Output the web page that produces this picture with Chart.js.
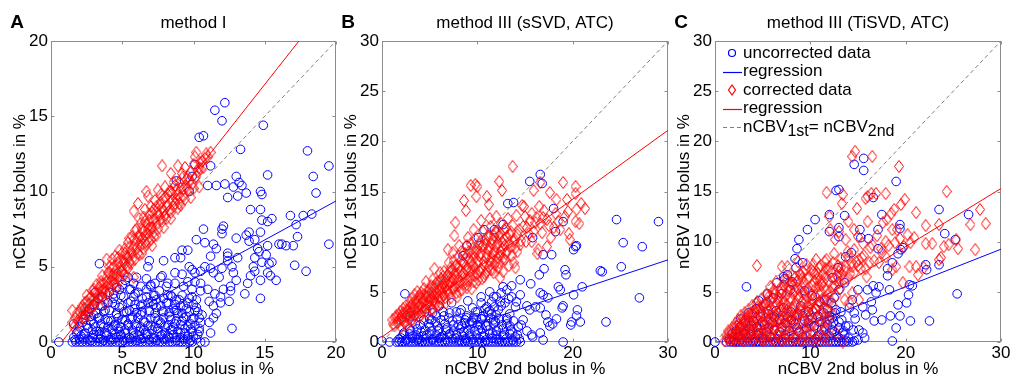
<!DOCTYPE html>
<html>
<head>
<meta charset="utf-8">
<script src="https://cdn.jsdelivr.net/npm/chart.js@4.4.0/dist/chart.umd.min.js"></script>
<style>
  html, body { margin: 0; padding: 0; background: #fff; }
  #wrap { position: relative; width: 1013px; height: 383px; }
  #wrap canvas { position: absolute; left: 0; top: 0; }
</style>
</head>
<body>
<div id="wrap">
  <canvas id="panelA" width="1013" height="383"></canvas>
  <canvas id="panelB" width="1013" height="383"></canvas>
  <canvas id="panelC" width="1013" height="383"></canvas>
</div>
<script>
Chart.defaults.font.family = '"Liberation Sans", Arial, sans-serif';
Chart.defaults.color = '#000';

const BLUE = '#0000ff';
const RED = '#ff0000';
const GRAY = '#808080';
const FRAME = '#8c8c8c';

// tick labels
const ticksA = [0, 5, 10, 15, 20];
const xTicksBC = [0, 10, 20, 30];
const yTicksBC = [0, 5, 10, 15, 20, 25, 30];

const titles = ['method I', 'method III (sSVD, ATC)', 'method III (TiSVD, ATC)'];
const letters = ['A', 'B', 'C'];
const xTitle = 'nCBV 2nd bolus in %';
const yTitle = 'nCBV 1st bolus in %';
const legendLabels = ['uncorrected data', 'regression', 'corrected data', 'regression'];

// ---- panel A (method I) ----
const aUncorr = [
  [0.55,0],[1.5,0],[1.75,0],[2.0,0],[2.2,0],[2.45,0],[2.7,0],[2.9,0],[3.15,0],[3.4,0],[3.6,0],[3.85,0],[4.1,0],[4.3,0],
  [4.55,0],[4.8,0],[5.0,0],[5.25,0],[5.5,0],[5.7,0],[5.95,0],[6.2,0],[6.4,0],[6.65,0],[6.9,0],[7.1,0],[7.35,0],[7.6,0],
  [7.8,0],[8.05,0],[8.3,0],[8.5,0],[8.75,0],[9.0,0],[9.2,0],[9.45,0],[9.7,0],[9.9,0],[10.5,0],[10.8,0],
  [1.6,0.3],[2.1,0.4],[2.6,0.2],[3.0,0.5],[3.5,0.2],[3.9,0.4],[4.4,0.2],[4.9,0.5],[5.3,0.2],[5.8,0.4],[6.3,0.2],[6.7,0.5],
  [7.2,0.2],[7.7,0.4],[8.1,0.2],[8.6,0.5],[9.1,0.3],[9.6,0.2],[10.0,0.4],
  [1.7,0.15],[2.3,0.2],[2.8,0.1],[3.3,0.25],[3.7,0.1],[4.2,0.15],[4.6,0.3],[5.1,0.1],[5.6,0.2],[6.0,0.1],[6.5,0.25],
  [6.9,0.15],[7.4,0.1],[7.9,0.2],[8.3,0.3],[8.8,0.1],[9.3,0.2],[9.8,0.1],[10.2,0.2],
  [1.9,0.7],[2.4,0.6],[2.9,0.8],[3.4,0.7],[3.8,0.6],[4.3,0.8],[4.8,0.7],[5.2,0.6],[5.7,0.8],[6.2,0.7],[6.6,0.6],[7.1,0.8],
  [7.5,0.7],[8.0,0.6],[8.4,0.8],[8.9,0.7],[9.4,0.6],[9.8,0.85],[10.4,0.7],
  [2.0,1.0],[2.5,1.1],[3.1,1.0],[3.5,1.2],[4.0,1.0],[4.5,1.15],[4.9,1.0],[5.4,1.1],[5.9,1.2],[6.3,1.0],[6.8,1.1],[7.3,1.0],
  [7.7,1.2],[8.2,1.1],[8.6,1.0],[9.1,1.15],[9.6,1.05],[10.1,1.1],
  [2.3,1.5],[2.8,1.4],[3.3,1.6],[3.8,1.5],[4.2,1.4],[4.7,1.6],[5.2,1.45],[5.6,1.5],[6.1,1.6],[6.5,1.4],[7.0,1.55],[7.5,1.45],
  [7.9,1.6],[8.4,1.5],[8.8,1.4],[9.3,1.6],[9.9,1.5],[10.4,1.6],
  [2.6,2.0],[3.2,1.9],[3.7,2.0],[4.1,2.1],[4.6,1.9],[5.1,2.0],[5.5,2.1],[6.0,1.95],[6.4,2.0],[6.9,2.1],[7.3,1.9],[7.8,2.05],
  [8.3,1.95],[8.7,2.1],[9.2,1.9],[9.7,2.0],[10.3,2.0],
  [3.0,2.5],[3.5,2.4],[4.0,2.6],[4.5,2.5],[5.0,2.4],[5.4,2.6],[5.9,2.5],[6.3,2.4],[6.8,2.6],[7.2,2.5],[7.7,2.4],[8.2,2.6],
  [8.7,2.5],[9.1,2.4],[9.6,2.6],[10.0,2.5],
  [3.6,3.0],[4.4,2.9],[4.9,3.1],[5.8,3.0],[6.4,2.9],[7.3,3.1],[7.9,2.9],[8.5,3.0],[9.2,3.1],[9.9,3.0],
  [2.3,0.5],[2.6,0.9],[2.9,0.3],[3.0,1.2],[3.2,0.7],[3.4,1.6],[3.5,0.4],[3.7,1.0],[3.8,2.1],[3.9,0.6],[4.0,1.4],[4.2,0.3],
  [4.3,2.6],[4.4,1.1],[4.5,0.5],[4.6,1.8],[4.7,0.9],[4.8,2.3],[4.9,0.4],[5.0,1.5],[5.1,3.0],[5.2,0.8],[5.3,2.0],[5.4,1.2],
  [5.5,0.3],[5.6,2.7],[5.7,1.6],[5.8,0.6],[5.9,2.2],[6.0,1.0],[6.1,3.3],[6.2,0.4],[6.3,1.8],[6.4,2.5],[6.5,0.8],[6.6,1.3],
  [6.7,3.0],[6.8,0.5],[6.9,2.0],[7.0,1.1],[7.1,2.7],[7.2,0.3],[7.3,1.6],[7.4,2.3],[7.5,0.9],[7.6,3.4],[7.7,1.3],[7.8,0.5],
  [7.9,2.0],[8.0,1.0],[8.1,2.6],[8.2,0.4],[8.3,1.7],[8.4,3.1],[8.5,0.8],[8.6,2.2],[8.7,1.2],[8.8,0.3],[8.9,1.9],[9.0,2.8],
  [9.1,0.6],[9.2,1.4],[9.3,2.4],[9.4,0.9],[9.5,1.7],[9.6,0.4],[9.7,2.9],[9.8,1.2],[9.9,0.7],[10.0,1.6],[10.2,2.3],[10.3,0.5],
  [10.5,1.3],[3.0,1.8],[3.6,2.4],[4.1,3.3],[2.0,0.2],[2.2,1.3],[1.8,0.6],[1.6,1.2],[2.8,1.7],[5.0,3.8],[5.5,3.5],[6.0,4.3],
  [7.0,3.8],[7.8,4.4],[8.2,3.9],[4.6,3.6],[3.3,2.9],[2.7,2.2],[3.1,3.3],[2.4,1.8],
  [11.5,15.4],[12.2,15.9],[12.0,14.7],[14.9,14.4],[10.4,13.6],[10.7,13.7],[13.3,12.8],[18.0,12.7],[19.5,11.7],[15.2,11.1],
  [18.4,11.0],[18.6,9.9],[13.0,11.0],[13.2,10.6],[11.6,10.4],[12.2,10.5],[11.0,10.4],[12.8,10.3],[13.4,10.4],[12.4,9.6],
  [13.1,9.7],[13.7,9.9],[14.7,10.0],[14.8,9.8],[11.2,11.7],[9.9,11.0],[10.1,11.8],[8.8,10.7],[9.7,10.0],[19.5,6.5],
  [16.8,8.4],[17.7,8.4],[18.3,8.5],[17.2,7.8],[17.3,7.0],[17.0,6.4],[16.5,6.4],[16.0,6.5],[17.1,5.1],[17.9,4.7],[15.8,4.1],
  [15.2,4.6],[15.4,4.4],[14.7,4.1],[14.7,2.9],[12.7,0.9],[14.0,8.8],[14.7,8.8],[14.8,8.1],[15.5,8.2],[15.2,8.0],[13.9,7.3],
  [14.7,7.3],[13.7,7.1],[10.7,7.5],[12.0,7.5],[12.1,7.7],[12.0,7.2],[13.0,6.9],[14.3,6.8],[13.9,6.7],[14.5,6.2],[14.6,6.0],
  [16.2,6.5],[15.2,6.4],[15.1,5.8],[14.8,5.3],[15.3,5.2],[15.5,5.3],[14.3,5.6],[14.2,5.0],[14.3,4.7],[14.0,4.4],[13.8,3.9],
  [13.6,3.2],[13.1,5.6],[12.4,5.9],[12.4,5.7],[12.4,5.4],[11.6,6.2],[11.4,6.5],[10.8,6.6],[10.2,6.8],[9.6,6.1],[9.2,6.1],
  [8.7,5.6],[7.9,5.4],[9.1,5.6],[8.7,4.6],[9.2,4.5],[9.7,5.0],[9.9,4.8],[10.1,4.6],[10.5,4.7],[10.8,5.0],[11.2,5.7],
  [11.2,4.9],[11.4,4.6],[11.8,4.3],[12.0,4.9],[12.7,5.0],[12.8,4.6],[13.0,4.1],[12.6,3.7],[12.1,3.5],[11.9,3.0],[11.5,3.2],
  [11.0,3.5],[11.1,2.7],[11.4,2.4],[11.9,2.6],[12.5,2.7],[12.6,3.4],[11.4,1.6],[11.6,1.9],[11.1,1.3],[11.2,0.6],[10.4,0.9],
  [10.6,1.8],[10.1,2.1],[9.5,2.2],[10.2,2.8],[10.5,3.4],[9.9,3.5],[9.3,3.7],[9.6,4.0],[10.1,4.0],[10.5,3.9],[8.7,3.9],
  [8.1,3.7],[8.2,3.1],[8.8,2.8],[8.8,2.1],[7.7,4.3],[7.3,3.9],[7.0,3.7],[6.7,3.5],[7.2,3.1],[7.4,2.8],[6.8,5.0],[6.9,5.4],
  [6.7,4.2],[6.3,3.7],[5.9,3.2],[5.6,3.5],[5.8,3.9],[5.2,4.1],[5.4,4.3],[3.4,5.2],[4.8,3.5],[4.4,3.2]
];
const aCorr = [
  [1.5,1.3],[1.5,2.1],[1.7,1.6],[1.9,1.4],[2.0,2.0],[2.1,1.7],[2.2,2.4],[2.3,1.9],[2.4,2.2],[2.5,2.7],[2.6,2.1],[2.7,2.5],
  [2.8,3.0],[2.9,2.4],[3.0,2.8],[3.0,3.5],[3.1,2.6],[3.2,3.2],[3.3,2.9],[3.4,3.6],[3.5,3.1],[3.5,4.0],[3.6,3.4],[3.7,3.9],
  [3.8,2.6],[3.8,3.5],[3.9,4.3],[4.0,3.8],[4.1,4.6],[4.1,3.3],[4.2,4.1],[4.3,4.9],[4.4,3.9],[4.4,4.5],[4.5,5.7],[4.5,4.2],
  [4.6,4.8],[4.7,5.3],[4.8,4.4],[4.9,5.0],[5.0,5.9],[5.0,4.7],[5.1,5.4],[5.2,6.2],[5.3,5.0],[5.3,5.7],[5.4,6.6],[5.5,5.3],
  [5.6,6.0],[5.7,7.0],[5.7,5.5],[5.8,6.3],[5.8,8.7],[5.8,4.3],[6.0,6.7],[6.0,7.5],[6.1,5.9],[6.1,9.2],[6.2,7.1],[6.3,6.4],
  [6.3,7.9],[6.4,6.9],[6.5,7.4],[6.5,8.3],[6.6,6.6],[6.7,7.8],[6.7,10.0],[6.8,9.7],[6.8,7.2],[6.9,8.5],[7.0,7.6],[7.0,9.0],
  [7.1,8.1],[7.2,7.0],[7.2,8.8],[7.3,9.4],[7.4,7.9],[7.5,8.6],[7.5,10.1],[7.6,9.1],[7.7,8.2],[7.7,9.8],[7.8,11.7],[7.8,8.9],
  [7.9,9.5],[8.0,8.4],[8.0,10.3],[8.1,9.0],[8.2,9.8],[8.3,8.7],[8.4,11.2],[8.4,10.0],[8.5,9.4],[8.6,10.6],[8.7,9.2],[8.8,10.1],
  [8.9,11.7],[8.9,9.8],[9.0,10.6],[9.1,9.6],[9.2,10.9],[9.3,10.2],[9.4,9.5],[9.5,10.8],[9.6,11.0],[9.7,10.1],[9.8,11.3],
  [9.9,10.5],[10.0,11.8],[10.1,12.3],[10.2,12.6],[10.2,11.0],[10.4,10.3],[10.4,11.6],[10.5,11.5],[10.6,12.0],[10.8,12.2],
  [11.0,12.3],[11.2,12.6],[3.9,5.5],[4.1,5.0],[3.6,4.4],[3.2,3.8],[2.5,3.1],[4.8,6.1],[5.5,6.9],[6.2,8.2],[6.6,8.8],
  [6.9,6.7],[7.4,7.1],[7.9,7.6],[8.4,8.2],[5.2,4.5],[4.6,3.7],[6.4,5.9],[7.1,6.4],[2.3,2.2],[2.9,3.4],[8.9,8.9],
  [9.4,11.6],[9.1,9.1],[5.9,7.4],[4.3,5.5],
  [1.6,1.0],[1.8,1.9],[2.0,1.3],[2.1,2.2],[2.3,1.6],[2.4,2.6],[2.6,1.8],[2.7,2.9],[2.8,2.2],[3.0,2.4],[3.1,3.3],[3.2,2.7],
  [3.4,3.0],[3.5,3.8],[3.6,2.9],[3.7,3.5],[3.9,3.2],[3.9,4.0],[4.0,4.6],[4.2,3.6],[4.3,4.4],[4.4,5.0],[4.5,3.9],[4.6,4.5],
  [4.7,5.6],[4.8,4.1],[4.9,4.7],[5.0,5.4],[5.1,4.5],[5.2,5.2],[5.2,5.9],[5.4,4.9],[5.4,5.6],[5.5,6.3],[5.6,5.2],[5.7,5.9],
  [5.8,6.8],[5.9,5.5],[6.0,6.2],[6.1,7.0],[6.2,5.8],[6.3,6.7],[6.4,7.5],[6.5,6.2],[6.6,7.1],[6.6,8.0],[6.7,6.5],[6.8,7.5],
  [6.9,8.1],[7.0,6.8],[7.1,7.6],[7.1,8.6],[7.2,7.3],[7.3,8.2],[7.4,9.0],[7.5,7.5],[7.6,8.4],[7.7,9.3],[7.8,8.0],[7.9,8.7],
  [8.0,9.6],[8.1,8.2],[8.2,9.1],[8.3,10.0],[8.4,8.6],[8.5,9.9],[8.6,9.0],[8.7,10.4],[8.8,9.5],[9.0,9.2],[9.1,10.2],
  [9.2,11.2],[9.3,9.7],[9.5,10.3],[9.7,10.7],[9.8,9.6],[10.0,10.2],[10.1,10.9],[10.3,11.3],[10.5,11.9],[10.7,11.6],[10.9,12.5]
];
const aRegBlue = [[1.9,0],[20,9.37]];
const aRegRed = [[0.75,0],[17.4,20]];

// ---- panel B (method III, sSVD) ----
const bUncorr = [
  [0.0,0.1],[0.8,0],[1.5,0],[1.8,0],[2.1,0],[2.4,0],[2.7,0],[3.0,0],[3.3,0],[3.6,0],[3.9,0],[4.2,0],[4.5,0],[4.8,0],
  [5.1,0],[5.4,0],[5.7,0],[6.0,0],[6.3,0],[6.6,0],[6.9,0],[7.2,0],[7.5,0],[7.8,0],[8.1,0],[8.4,0],[8.7,0],[9.0,0],
  [9.3,0],[9.6,0],[9.9,0],[10.2,0],[10.5,0],[10.8,0],[11.1,0],[11.4,0],[11.7,0],[12.0,0],[12.3,0],[12.6,0],[12.9,0],
  [13.2,0],[13.5,0],[13.8,0],[14.1,0],[14.5,0],
  [1.8,0.3],[2.5,0.2],[3.2,0.35],[3.9,0.25],[4.6,0.3],[5.3,0.2],[6.0,0.35],[6.7,0.25],[7.4,0.3],[8.1,0.2],[8.8,0.35],
  [9.5,0.25],[10.2,0.3],[10.9,0.2],[11.6,0.35],[12.3,0.25],[13.0,0.3],[13.7,0.2],[14.4,0.3],
  [2.2,0.7],[2.9,0.8],[3.6,0.7],[4.3,0.6],[5.0,0.8],[5.7,0.7],[6.4,0.6],[7.1,0.8],[7.8,0.7],[8.5,0.6],[9.2,0.8],[9.9,0.7],
  [10.6,0.6],[11.3,0.8],[12.0,0.7],[12.7,0.6],[13.4,0.8],[14.2,0.7],
  [3.0,1.1],[3.7,1.3],[4.5,1.2],[5.2,1.1],[6.0,1.3],[6.7,1.2],[7.5,1.1],[8.2,1.3],[9.0,1.2],[9.7,1.1],[10.5,1.3],[11.2,1.2],
  [12.0,1.1],[12.7,1.3],[13.5,1.2],
  [4.0,1.7],[4.9,1.8],[5.8,1.6],[6.6,1.8],[7.5,1.7],[8.4,1.6],[9.2,1.8],[10.0,1.7],[10.9,1.6],[11.7,1.8],[12.6,1.7],[13.4,1.6],
  [5.0,2.3],[6.2,2.2],[7.0,2.4],[7.9,2.3],[8.7,2.2],[9.6,2.4],[10.5,2.3],[11.4,2.4],[12.3,2.3],[13.1,2.2],
  [9.5,3.4],[10.0,3.0],[10.8,3.3],[11.5,2.8],[12.2,3.2],[12.9,3.9],[13.3,4.3],[12.4,4.0],[11.7,4.5],[14.0,3.5],
  [2.0,0.4],[2.3,0.9],[2.6,0.3],[2.9,1.3],[3.2,0.6],[3.5,1.8],[3.8,0.4],[4.1,1.0],[4.4,2.2],[4.7,0.7],[5.0,1.5],[5.3,0.3],
  [5.6,2.0],[5.9,1.1],[6.2,0.5],[6.5,2.6],[6.8,1.4],[7.1,0.8],[7.4,2.1],[7.7,0.4],[8.0,1.7],[8.3,3.2],[8.6,1.0],[8.9,2.4],
  [9.2,0.6],[9.5,1.9],[9.8,3.0],[10.1,1.2],[10.4,2.3],[10.7,0.5],[11.0,1.6],[11.3,3.1],[11.6,0.9],[11.9,2.0],[12.2,1.3],
  [12.5,3.6],[12.8,0.7],[13.1,1.8],[13.4,2.8],[13.7,1.0],[14.0,0.5],[14.3,1.5],[3.0,2.6],[4.6,3.3],[6.0,3.6],[7.3,3.9],
  [9.0,4.1],[10.4,4.5],[2.4,4.8],[5.3,2.9],[3.7,0.2],[8.8,0.2],[12.0,0.3],
  [15.5,16.0],[16.6,16.7],[16.8,15.8],[13.2,13.8],[13.8,13.9],[18.0,13.3],[19.0,12.0],[18.2,11.0],[24.6,12.2],[29.0,12.0],
  [25.3,9.9],[27.3,9.5],[25.1,7.5],[22.9,7.1],[23.1,7.0],[27.0,4.4],[23.5,2.0],[20.1,9.2],[20.3,9.5],[20.4,9.6],[16.9,8.7],
  [17.8,8.7],[15.8,10.4],[12.7,11.7],[11.8,11.2],[10.7,11.2],[10.1,10.4],[8.9,9.6],[8.5,8.6],[17.0,7.3],[19.2,7.2],
  [19.3,6.7],[16.5,6.7],[15.6,5.8],[12.7,5.5],[13.6,5.6],[14.5,6.2],[16.6,4.9],[16.9,4.7],[17.4,4.4],[20.1,4.7],[21.0,5.5],
  [18.5,5.5],[18.7,5.2],[18.9,3.4],[19.0,3.6],[20.5,3.2],[20.4,2.6],[20.8,2.0],[19.8,1.7],[19.9,2.0],[17.6,1.6],[16.6,0.9],
  [16.9,0.2],[19.0,0],[18.3,2.3],[17.9,1.8],[17.4,2.0],[17.2,2.7],[16.6,3.4],[16.1,3.5],[15.5,3.2],[15.2,3.6],[14.8,2.2],
  [14.6,1.7],[15.2,1.1],[15.7,0.7],[15.8,0.5],[13.8,2.1],[13.1,2.4],[12.0,2.7],[11.7,2.2],[11.1,3.0],[10.6,2.6],[9.9,2.4],
  [10.3,1.7],[9.4,2.1],[8.9,2.6],[8.2,2.9],[7.8,3.0],[7.1,2.9],[6.4,3.0],[5.7,2.6],[5.2,2.2],[12.5,4.9],[12.0,4.5],
  [13.1,5.2],[13.6,4.5],[14.1,4.0],[14.5,4.7],[11.5,4.0],[11.0,3.5],[10.4,3.9],[11.8,3.5],[11.3,5.0],[8.7,1.9]
];
const bCorr = [
  [1.1,2.2],[1.3,1.6],[1.5,2.6],[1.6,1.9],[1.8,2.3],[1.9,3.0],[2.0,1.5],[2.1,2.6],[2.2,3.3],[2.3,2.0],[2.4,2.8],[2.5,3.6],
  [2.6,1.7],[2.7,3.1],[2.8,2.4],[2.9,3.9],[3.0,2.9],[3.1,4.3],[3.2,2.2],[3.3,3.5],[3.4,4.7],[3.5,2.7],[3.6,3.9],[3.7,3.2],
  [3.8,4.5],[3.9,2.5],[4.0,3.7],[4.1,4.9],[4.2,3.0],[4.3,4.2],[4.4,5.3],[4.5,3.5],[4.6,4.6],[4.7,2.8],[4.8,5.0],[4.9,3.9],
  [5.0,4.4],[5.1,5.6],[5.2,3.3],[5.3,4.8],[5.4,4.1],[5.5,5.3],[5.5,7.3],[5.6,3.7],[5.7,5.0],[5.8,6.0],[5.9,4.4],[6.0,5.5],
  [6.1,3.9],[6.2,6.3],[6.3,4.9],[6.4,5.8],[6.5,7.0],[6.6,4.4],[6.7,6.1],[6.8,5.2],[6.9,9.2],[6.9,6.7],[7.0,4.8],[7.1,5.9],
  [7.2,7.4],[7.3,6.4],[7.4,5.3],[7.5,8.1],[7.6,10.6],[7.6,6.8],[7.7,11.9],[7.7,5.6],[7.8,7.6],[7.9,6.2],[8.0,8.5],[8.1,5.0],
  [8.2,7.1],[8.3,9.0],[8.4,6.6],[8.5,7.9],[8.6,14.1],[8.6,5.8],[8.7,8.8],[8.8,13.1],[8.8,7.2],[8.9,9.6],[9.0,6.1],[9.1,8.3],
  [9.2,7.0],[9.3,15.6],[9.3,9.8],[9.4,5.3],[9.5,7.7],[9.6,8.9],[9.7,6.6],[9.8,15.7],[9.8,10.3],[9.9,14.5],[9.9,7.9],
  [10.0,15.5],[10.0,9.2],[10.1,6.2],[10.2,8.6],[10.3,10.0],[10.4,7.3],[10.5,9.5],[10.6,11.0],[10.7,8.0],[10.8,6.8],
  [10.9,9.8],[11.0,14.5],[11.0,8.7],[11.1,10.6],[11.2,13.7],[11.2,7.5],[11.3,9.3],[11.4,11.5],[11.5,8.4],[11.6,10.2],
  [11.7,6.9],[11.8,9.0],[11.9,11.0],[12.0,12.5],[12.0,8.0],[12.1,9.7],[12.2,7.4],[12.3,16.0],[12.3,10.5],[12.4,8.6],
  [12.5,11.8],[12.6,15.1],[12.6,9.3],[12.7,7.0],[12.8,10.2],[12.9,8.2],[13.0,11.3],[13.1,9.0],[13.2,12.3],[13.3,7.6],
  [13.4,10.7],[13.5,9.5],[13.7,17.5],[13.7,11.6],[13.8,7.9],[13.9,10.2],[14.0,7.4],[14.1,12.6],[14.2,9.0],[14.4,11.2],
  [14.6,10.1],[14.7,13.6],[14.9,13.5],[15.0,12.5],[15.2,11.4],[15.4,10.8],[15.7,12.8],[15.7,10.0],[15.9,15.1],[16.1,11.9],
  [16.3,8.8],[16.4,9.2],[16.5,13.5],[16.6,15.9],[16.6,11.8],[16.9,12.4],[17.3,12.2],[17.3,9.5],[17.6,14.9],[17.7,10.4],
  [18.2,12.8],[18.3,14.2],[18.7,11.2],[19.0,15.9],[19.4,14.2],[19.5,13.0],[19.6,10.8],[19.7,10.2],[20.3,15.5],[20.3,14.8],
  [20.3,12.0],[20.4,13.2],[20.7,11.8],[20.9,13.8],[21.3,13.3],[4.0,4.6],[3.0,3.6],[2.0,2.4],[5.3,6.2],[6.1,6.9],[7.0,7.9],
  [7.4,8.9],[8.1,9.6],[9.0,10.4],[9.6,11.2],[10.4,12.1],[11.3,12.3],[6.6,5.4],[7.9,4.5],[8.9,5.4],[9.9,5.9],[10.7,6.5],
  [11.6,7.2],[12.4,6.4],[4.6,6.0],[3.7,5.0],
  [1.2,1.8],[1.4,2.4],[1.7,2.0],[1.8,2.7],[2.1,2.2],[2.2,2.9],[2.4,1.9],[2.5,2.5],[2.6,3.2],[2.8,2.7],[2.9,3.4],[3.0,2.1],
  [3.1,3.0],[3.2,3.8],[3.4,2.6],[3.5,3.3],[3.6,4.1],[3.7,2.9],[3.9,3.6],[4.0,4.4],[4.1,2.7],[4.2,3.4],[4.3,4.0],[4.4,4.7],
  [4.6,3.1],[4.7,3.8],[4.8,4.5],[4.9,5.2],[5.0,3.6],[5.1,4.2],[5.2,4.9],[5.3,3.2],[5.4,5.5],[5.5,4.5],[5.6,4.0],[5.7,5.8],
  [5.8,4.8],[5.9,3.6],[6.0,5.2],[6.1,6.0],[6.2,4.3],[6.3,5.5],[6.4,6.5],[6.5,4.7],[6.6,5.9],[6.7,3.9],[6.8,6.5],[6.9,5.0],
  [7.0,5.7],[7.1,7.0],[7.2,4.4],[7.3,6.0],[7.4,7.2],[7.5,5.4],[7.6,6.2],[7.7,7.6],[7.8,4.9],[7.9,6.8],[8.0,5.6],[8.1,7.4],
  [8.2,6.0],[8.3,8.1],[8.4,5.2],[8.5,6.9],[8.6,7.8],[8.7,6.2],[8.8,8.4],[8.9,5.7],[9.0,7.4],[9.1,9.0],[9.2,6.5],[9.3,8.0],
  [9.4,7.1],[9.5,9.3],[9.6,6.0],[9.7,8.4],[9.8,7.3],[9.9,9.0],[10.0,6.8],[10.1,8.0],[10.2,9.7],[10.3,7.0],[10.4,8.8],
  [10.5,6.3],[10.6,9.6],[10.7,7.6],[10.8,10.2],[10.9,8.4],[11.0,7.0],[11.1,9.2],[11.2,10.4],[11.3,8.1],[11.4,7.2],
  [11.5,9.8],[11.6,8.8],[11.7,10.6],[11.8,7.7],[11.9,9.5],[12.0,10.9],[12.1,8.4],[12.2,9.9],[12.3,7.9],[12.4,10.8],
  [12.5,9.0],[12.6,10.0],[12.7,8.3],[12.8,11.2],[12.9,9.6],[13.0,8.8],[13.1,10.5],[13.3,9.9],[13.5,11.0],[13.6,8.6],
  [13.8,10.0],[14.0,9.4],[14.2,10.7],[14.5,9.7],[14.8,11.5],[15.1,10.0],[15.5,12.1],[15.9,11.0],[16.2,12.4],[16.8,10.9],
  [17.0,13.1],[17.5,11.6],[18.0,11.4],[18.5,12.0],[19.2,12.5]
];
const bRegBlue = [[4.1,0],[30,8.19]];
const bRegRed = [[0,0.5],[30,21.1]];

// ---- panel C (method III, TiSVD) ----
const cUncorr = [
  [0.0,0],[1.2,0],[1.6,0],[1.9,0],[2.2,0],[2.5,0],[2.8,0],[3.1,0],[3.4,0],[3.7,0],[4.0,0],[4.3,0],[4.6,0],[4.9,0],
  [5.2,0],[5.5,0],[5.8,0],[6.1,0],[6.4,0],[6.7,0],[7.0,0],[7.3,0],[7.6,0],[7.9,0],[8.2,0],[8.5,0],[8.8,0],[9.1,0],
  [9.4,0],[9.7,0],[10.0,0],[10.3,0],[10.6,0],[10.9,0],[11.2,0],[11.5,0],[11.8,0],[12.1,0],[12.4,0],[12.7,0],[13.0,0],
  [13.3,0],[13.6,0],[14.0,0],[14.4,0],
  [1.5,0.3],[1.8,0.8],[2.0,0.2],[2.2,1.1],[2.4,0.5],[2.6,1.5],[2.8,0.3],[3.0,0.9],[3.2,1.9],[3.4,0.4],[3.6,1.3],[3.8,0.7],
  [4.0,2.1],[4.2,0.3],[4.4,1.5],[4.6,0.9],[4.8,2.5],[5.0,0.4],[5.2,1.7],[5.4,1.0],[5.6,2.8],[5.8,0.5],[6.0,1.9],[6.2,1.2],
  [6.4,3.1],[6.6,0.3],[6.8,2.2],[7.0,1.5],[7.2,3.4],[7.4,0.7],[7.6,2.5],[7.8,1.1],[8.0,3.0],[8.2,0.4],[8.4,1.8],[8.6,2.7],
  [8.8,1.0],[9.0,3.6],[9.2,0.5],[9.4,2.1],[9.6,1.4],[9.8,3.0],[10.0,0.8],[10.2,2.4],[10.4,1.6],[10.6,3.3],[10.8,0.6],
  [11.0,2.0],[11.2,1.2],[11.4,2.9],[11.6,0.4],[11.8,1.7],[12.0,2.6],[12.2,0.9],[12.4,1.9],[12.6,2.9],[12.8,0.5],[13.0,1.4],
  [13.3,2.2],[13.6,0.7],[14.0,1.6],[2.7,2.3],[3.5,2.9],[4.3,3.3],[5.3,3.8],[6.1,4.4],[7.0,4.8],[7.9,5.2],[6.5,5.9],
  [7.3,6.3],[8.1,6.0],[5.5,4.8],[4.6,4.1],[9.4,5.1],[10.2,4.6],[11.0,4.0],[12.5,4.4],
  [10.5,0.3],[11.0,0.7],[11.5,1.5],[12.0,0.6],[12.5,1.0],[13.0,2.0],[13.5,1.1],[14.0,0.4],[14.5,1.2],[12.3,2.4],[11.8,3.3],
  [13.2,3.0],[10.8,2.6],[9.8,1.9],[9.2,2.6],[8.6,1.4],[8.0,2.2],[7.4,1.9],[6.8,1.0],[6.2,2.5],[5.6,1.4],[5.0,2.0],[4.4,0.7],
  [3.8,1.6],[3.2,0.8],[2.6,0.6],[14.6,0.1],[15.0,0.2],[13.8,0.1],
  [15.6,18.3],[14.6,17.7],[15.6,17.1],[19.0,16.0],[12.7,15.1],[13.0,15.2],[16.6,14.4],[17.5,12.7],[19.4,11.7],[19.4,11.3],
  [12.0,12.7],[10.5,12.2],[13.6,12.6],[12.0,11.0],[13.0,11.4],[13.0,10.5],[9.7,11.2],[8.8,10.2],[8.6,9.3],[8.4,8.3],
  [9.2,7.9],[8.5,7.4],[7.6,6.7],[7.2,6.5],[3.3,5.5],[15.2,11.2],[15.3,10.4],[16.1,10.3],[17.1,9.3],[17.1,11.2],[18.1,6.6],
  [18.1,7.3],[18.6,7.9],[19.2,8.8],[19.5,9.2],[19.7,9.4],[17.2,5.5],[18.3,5.2],[16.6,5.6],[16.9,4.9],[19.2,3.7],[20.4,5.7],
  [20.7,5.6],[20.3,4.7],[20.1,3.9],[20.5,2.1],[22.5,2.1],[22.1,7.7],[22.2,7.2],[23.5,7.7],[23.5,13.2],[26.6,12.7],
  [25.2,10.2],[24.1,10.8],[25.4,4.8],[18.4,2.6],[19.4,2.6],[19.0,1.4],[18.6,0.1],[17.5,2.2],[16.7,2.1],[15.5,0.9],
  [15.1,1.2],[15.7,0.4],[14.7,2.3],[14.6,2.9],[14.1,3.4],[14.4,4.2],[15.0,5.2],[16.0,5.2],[16.4,4.0],[16.5,3.2],[15.5,3.5],
  [15.8,2.7],[13.7,1.6],[13.4,0.9],[13.0,0.4],[12.3,1.2],[12.0,2.2],[12.7,3.2],[12.2,3.9],[11.5,4.2],[13.0,5.2],[13.6,5.9],
  [12.9,7.4],[12.3,6.4],[13.7,8.5],[14.3,8.9]
];
const cCorr = [
  [1.0,0.1],[1.3,0.4],[1.5,0.9],[1.7,0.2],[1.8,1.4],[2.0,0.6],[2.1,1.8],[2.2,0.1],[2.3,1.1],[2.4,2.2],[2.5,0.4],[2.6,1.5],
  [2.7,2.6],[2.8,0.8],[2.9,1.9],[3.0,0.2],[3.1,2.9],[3.2,1.2],[3.3,2.3],[3.4,0.5],[3.5,3.2],[3.6,1.6],[3.7,0.9],[3.8,2.6],
  [3.9,3.6],[4.0,0.3],[4.1,1.9],[4.2,3.0],[4.3,1.1],[4.4,7.6],[4.4,4.0],[4.5,2.3],[4.6,0.6],[4.7,3.4],[4.8,1.5],[4.9,4.3],
  [5.0,2.7],[5.1,0.2],[5.2,3.8],[5.3,1.8],[5.4,4.7],[5.5,1.0],[5.6,3.1],[5.7,2.2],[5.8,5.5],[5.8,4.1],[5.9,0.5],[6.0,2.6],
  [6.1,4.9],[6.2,1.4],[6.3,3.5],[6.4,6.0],[6.5,0.8],[6.6,2.9],[6.7,4.4],[6.8,1.9],[6.9,5.3],[7.0,7.5],[7.0,0.3],[7.1,3.8],
  [7.2,2.4],[7.3,6.2],[7.4,1.2],[7.5,4.7],[7.6,7.5],[7.6,3.2],[7.7,0.7],[7.8,5.6],[7.9,2.0],[8.0,4.1],[8.1,6.6],[8.2,1.5],
  [8.3,3.5],[8.4,5.1],[8.5,0.4],[8.6,2.8],[8.7,8.0],[8.7,6.1],[8.8,4.4],[8.9,1.0],[9.0,3.1],[9.1,5.5],[9.2,7.0],[9.3,2.2],
  [9.4,4.8],[9.5,0.6],[9.6,7.7],[9.6,3.6],[9.7,6.3],[9.8,1.7],[9.9,5.0],[10.0,2.7],[10.1,7.2],[10.2,4.2],[10.3,0.9],
  [10.4,6.0],[10.5,3.3],[10.6,8.2],[10.6,5.4],[10.7,1.4],[10.8,6.8],[10.9,4.0],[11.0,2.3],[11.1,7.6],[11.2,5.7],[11.3,0.5],
  [11.4,3.4],[11.5,8.0],[11.6,6.4],[11.7,8.2],[11.7,14.9],[11.8,4.7],[11.9,7.1],[12.0,7.5],[12.1,11.2],[12.3,5.5],
  [12.7,0.9],[11.6,1.2],[12.5,8.8],[13.0,5.9],[13.0,7.0],[13.3,13.8],[13.4,14.7],[13.4,0],[13.6,4.2],[13.7,10.2],[13.7,7.5],
  [14.0,8.5],[14.1,3.9],[14.4,18.5],[14.4,7.5],[14.4,4.9],[14.6,11.2],[14.6,9.2],[14.7,19.0],[14.9,13.3],[15.1,4.2],
  [15.1,8.2],[15.5,9.8],[15.8,14.3],[16.0,14.5],[16.2,7.9],[16.4,14.8],[16.5,9.7],[16.5,18.5],[16.9,14.8],[17.2,7.9],
  [17.4,9.3],[17.9,14.8],[17.9,10.0],[17.9,8.5],[18.5,12.8],[18.6,11.2],[18.6,7.2],[18.8,13.2],[19.0,7.5],[19.1,11.2],
  [19.3,17.5],[19.5,13.7],[19.7,5.9],[19.9,14.2],[20.2,10.7],[20.4,7.5],[21.1,12.9],[21.1,7.5],[21.3,6.7],[21.9,7.4],
  [22.1,11.6],[22.1,9.8],[22.8,9.8],[23.5,11.7],[23.5,8.2],[23.7,8.4],[24.0,9.5],[24.3,15.0],[24.5,9.7],[25.3,10.2],
  [25.5,9.3],[26.8,11.7],[27.3,9.2],[27.8,13.2],[28.4,11.8],[12.0,12.5],[10.3,7.0],[9.0,6.6],[8.0,5.8],[11.0,6.2],
  [12.4,7.9],[12.8,6.6],[13.2,8.3],[13.5,6.2],[13.9,9.0],[14.2,6.8],[14.8,8.0],[15.3,7.3],[15.6,8.6],[15.9,6.5],[16.3,9.4],
  [16.7,8.1],[17.0,10.6],[17.5,8.9],[18.2,9.6],[18.9,9.9],[19.4,10.3],[19.8,9.5],[20.5,9.9],[20.9,10.4],[14.0,12.0],
  [15.0,10.5],[16.0,12.0],[17.6,11.9],[18.0,12.2],[12.6,10.2],[13.0,11.0],
  [1.2,0.7],[1.5,0.2],[1.8,0.9],[2.0,1.4],[2.2,0.5],[2.4,1.0],[2.5,1.8],[2.7,0.3],[2.8,1.4],[3.0,2.1],[3.1,0.7],[3.3,1.6],
  [3.4,2.6],[3.5,0.3],[3.6,2.0],[3.8,1.1],[3.9,2.9],[4.0,1.6],[4.2,0.6],[4.3,2.4],[4.4,3.4],[4.5,1.2],[4.7,2.8],[4.8,0.3],
  [4.9,1.9],[5.0,3.6],[5.1,1.2],[5.3,2.9],[5.4,0.6],[5.5,4.0],[5.6,2.2],[5.7,1.4],[5.9,3.3],[6.0,4.4],[6.1,0.3],[6.2,2.1],
  [6.3,4.8],[6.4,1.5],[6.5,3.8],[6.6,0.6],[6.7,2.4],[6.8,5.0],[6.9,3.2],[7.0,1.4],[7.1,4.2],[7.2,5.6],[7.3,0.4],[7.4,2.8],
  [7.5,3.7],[7.6,1.7],[7.7,5.1],[7.8,2.6],[7.9,6.0],[8.0,0.8],[8.1,3.4],[8.2,4.8],[8.3,2.1],[8.4,6.4],[8.5,3.9],[8.6,1.2],
  [8.7,5.3],[8.8,2.8],[8.9,6.8],[9.0,0.3],[9.1,4.0],[9.2,1.9],[9.3,5.9],[9.4,3.0],[9.5,7.2],[9.6,1.0],[9.7,4.4],[9.8,2.4],
  [9.9,6.5],[10.0,3.8],[10.1,1.6],[10.2,5.6],[10.3,7.7],[10.4,2.9],[10.5,4.6],[10.6,0.4],[10.7,6.2],[10.8,3.6],[10.9,7.4],
  [11.0,1.8],[11.1,5.0],[11.2,3.0],[11.3,6.8],[11.4,4.3],[11.5,2.5],[11.6,7.3],[11.7,5.2],[11.8,3.1],[11.9,6.0],[12.0,4.0],
  [12.2,7.0],[12.3,2.8],[12.5,6.3],[12.7,4.6],[12.9,7.6],[13.1,5.3],[13.3,6.7],[13.6,7.1],[13.9,6.3],[14.3,7.9],[14.6,6.9],
  [15.0,7.6],[15.4,8.4],[15.8,7.3],[12.0,0.2],[11.0,0.1],[10.0,0.2],[9.0,0.1],[8.0,0.15],[7.0,0.1],[6.0,0.2],[5.0,0.1],
  [4.0,0.15],[3.0,0.1],[2.0,0.15],
  [1.4,1.1],[1.9,0.4],[2.3,1.6],[2.6,0.9],[2.9,2.4],[3.2,0.4],[3.5,1.9],[3.7,2.8],[4.0,1.1],[4.1,2.6],[4.3,3.8],[4.6,1.7],
  [4.8,3.0],[5.0,0.7],[5.2,2.5],[5.4,3.3],[5.6,4.5],[5.8,1.8],[6.0,3.0],[6.2,5.2],[6.4,2.6],[6.6,4.1],[6.8,1.1],[6.9,3.6],
  [7.1,5.0],[7.3,2.0],[7.5,6.1],[7.7,3.0],[7.9,4.4],[8.1,1.9],[8.3,5.7],[8.5,2.4],[8.7,4.6],[8.9,3.3],[9.1,6.3],[9.3,1.4],
  [9.5,4.0],[9.7,5.3],[9.9,2.1],[10.1,4.7],[10.3,3.1],[10.5,6.8],[10.7,2.5],[10.9,5.6],[11.1,3.8],[11.3,6.0],[11.5,1.2],
  [11.7,4.1],[11.9,2.3],[12.1,5.0],[12.4,3.6],[12.6,5.6],[12.9,6.4],[13.2,7.4],[6.5,2.0],[7.2,3.1],[8.2,2.7],[9.0,5.0],
  [9.9,3.5],[10.8,4.9],[11.6,2.0],[5.3,0.3],[6.3,0.1],[7.5,0.2],[8.4,0.3],[9.4,0.2],[10.4,0.1],[11.5,0.3]
];
const cRegBlue = [[5.3,0],[30,9.25]];
const cRegRed = [[3.6,0],[30,15.3]];

const toXY = arr => arr.map(p => ({ x: p[0], y: p[1] }));

// narrow diamond marker, like the MATLAB 'd' symbol
function diamondMarker(w, h, color) {
  const c = document.createElement('canvas');
  c.width = w; c.height = h;
  const g = c.getContext('2d');
  g.strokeStyle = color;
  g.lineWidth = 1;
  g.beginPath();
  g.moveTo(w / 2, 0.5); g.lineTo(w - 0.5, h / 2); g.lineTo(w / 2, h - 0.5); g.lineTo(0.5, h / 2);
  g.closePath();
  g.stroke();
  return c;
}
const redDiamond = diamondMarker(10, 13, RED);

const panelPlugin = {
  id: 'panelDeco',
  beforeDatasetsDraw(chart) {
    const { ctx, chartArea: a, scales: { x, y } } = chart;
    const l = Math.round(a.left) + 0.5, r = Math.round(a.right) - 0.5;
    const t = Math.round(a.top) + 0.5, b = Math.round(a.bottom) - 0.5;
    ctx.save();
    ctx.strokeStyle = FRAME;
    ctx.lineWidth = 1;
    ctx.strokeRect(l, t, r - l, b - t);
    ctx.beginPath();
    x.ticks.forEach(tk => {
      const px = Math.round(x.getPixelForValue(tk.value)) + 0.5;
      ctx.moveTo(px, b); ctx.lineTo(px, b - 3);
      ctx.moveTo(px, t); ctx.lineTo(px, t + 3);
    });
    y.ticks.forEach(tk => {
      const py = Math.round(y.getPixelForValue(tk.value)) + 0.5;
      ctx.moveTo(l, py); ctx.lineTo(l + 3, py);
      ctx.moveTo(r, py); ctx.lineTo(r - 3, py);
    });
    ctx.stroke();
    ctx.restore();
  },
  afterDraw(chart, args, opts) {
    const { ctx, chartArea: a } = chart;
    ctx.save();
    ctx.fillStyle = '#000';
    ctx.textBaseline = 'alphabetic';
    ctx.textAlign = 'center';
    ctx.font = '17px "Liberation Sans", Arial, sans-serif';
    ctx.fillText(opts.title, (a.left + a.right) / 2, 28);
    ctx.font = 'bold 19px "Liberation Sans", Arial, sans-serif';
    ctx.fillText(opts.letter, a.left - 34, 28);

    if (opts.legend) {
      const x0 = a.left;
      const rows = [a.top + 12, a.top + 30.5, a.top + 49, a.top + 67.5, a.top + 86];
      ctx.font = '17px "Liberation Sans", Arial, sans-serif';
      ctx.textAlign = 'left';
      ctx.textBaseline = 'middle';
      ctx.lineWidth = 1.2;
      ctx.strokeStyle = BLUE;
      ctx.beginPath(); ctx.arc(x0 + 17, rows[0], 3.5, 0, Math.PI * 2); ctx.stroke();
      ctx.beginPath(); ctx.moveTo(x0 + 8, Math.round(rows[1]) + 0.5); ctx.lineTo(x0 + 27, Math.round(rows[1]) + 0.5); ctx.stroke();
      ctx.strokeStyle = RED;
      ctx.beginPath();
      ctx.moveTo(x0 + 17, rows[2] - 5); ctx.lineTo(x0 + 20.5, rows[2]);
      ctx.lineTo(x0 + 17, rows[2] + 5); ctx.lineTo(x0 + 13.5, rows[2]); ctx.closePath(); ctx.stroke();
      ctx.beginPath(); ctx.moveTo(x0 + 8, Math.round(rows[3]) + 0.5); ctx.lineTo(x0 + 27, Math.round(rows[3]) + 0.5); ctx.stroke();
      ctx.strokeStyle = GRAY;
      ctx.lineWidth = 1;
      ctx.setLineDash([4, 3]);
      ctx.beginPath(); ctx.moveTo(x0 + 8, rows[4] + 0.5); ctx.lineTo(x0 + 27, rows[4] + 0.5); ctx.stroke();
      ctx.setLineDash([]);

      legendLabels.forEach((txt, i) => ctx.fillText(txt, x0 + 28, rows[i]));
      // nCBV_1st = nCBV_2nd
      let tx = x0 + 28;
      const big = '17px "Liberation Sans", Arial, sans-serif';
      const small = '16px "Liberation Sans", Arial, sans-serif';
      const parts = [['nCBV', big, 0], ['1st', small, 5], ['= nCBV', big, 0], ['2nd', small, 5]];
      parts.forEach(([s, f, dy]) => {
        ctx.font = f;
        ctx.fillText(s, tx, rows[4] + dy);
        tx += ctx.measureText(s).width;
      });
    }
    ctx.restore();
  }
};

function makePanel(id, cfg) {
  const tickSetter = vals => scale => { scale.ticks = vals.map(v => ({ value: v })); };
  new Chart(document.getElementById(id), {
    type: 'scatter',
    data: {
      datasets: [
        {
          data: toXY([[0, 0], [cfg.xMax, cfg.yMax]]),
          showLine: true, borderColor: GRAY, borderWidth: 1, borderDash: [4, 3],
          pointRadius: 0, order: 0, clip: false
        },
        {
          data: toXY(cfg.regRed),
          showLine: true, borderColor: RED, borderWidth: 1, pointRadius: 0, order: 1, clip: false
        },
        {
          data: toXY(cfg.corr),
          pointStyle: redDiamond, pointRadius: 6, borderColor: RED, borderWidth: 1,
          backgroundColor: 'rgba(0,0,0,0)', order: 2, clip: false
        },
        {
          data: toXY(cfg.regBlue),
          showLine: true, borderColor: BLUE, borderWidth: 1, pointRadius: 0, order: 3, clip: false
        },
        {
          data: toXY(cfg.uncorr),
          pointStyle: 'circle', pointRadius: 4.3, borderColor: BLUE, borderWidth: 1,
          backgroundColor: 'rgba(0,0,0,0)', order: 4, clip: false
        }
      ]
    },
    options: {
      responsive: false,
      animation: false,
      events: [],
      layout: { padding: { left: cfg.left - 51, right: 1013 - cfg.right, top: 41, bottom: 0 } },
      plugins: {
        legend: { display: false },
        tooltip: { enabled: false },
        panelDeco: { title: cfg.title, letter: cfg.letter, legend: cfg.legend }
      },
      scales: {
        x: {
          type: 'linear', min: 0, max: cfg.xMax,
          afterBuildTicks: tickSetter(cfg.xTicks),
          afterFit: s => { s.height = 41; },
          grid: { display: false, drawTicks: false },
          border: { display: false },
          ticks: { font: { size: 17 }, padding: 1, color: '#000', maxRotation: 0 },
          title: { display: true, text: xTitle, font: { size: 17 }, color: '#000', padding: { top: 0, bottom: 3 } }
        },
        y: {
          type: 'linear', min: 0, max: cfg.yMax,
          afterBuildTicks: tickSetter(cfg.yTicks),
          afterFit: s => { s.width = 51; },
          grid: { display: false, drawTicks: false },
          border: { display: false },
          ticks: { font: { size: 17 }, padding: 3, color: '#000' },
          title: { display: true, text: yTitle, font: { size: 17 }, color: '#000', padding: { top: 10, bottom: 0 } }
        }
      }
    },
    plugins: [panelPlugin]
  });
}

makePanel('panelA', {
  left: 51, right: 336, xMax: 20, yMax: 20, xTicks: ticksA, yTicks: ticksA,
  uncorr: aUncorr, corr: aCorr, regBlue: aRegBlue, regRed: aRegRed,
  title: titles[0], letter: letters[0], legend: false
});
makePanel('panelB', {
  left: 382, right: 668, xMax: 30, yMax: 30, xTicks: xTicksBC, yTicks: yTicksBC,
  uncorr: bUncorr, corr: bCorr, regBlue: bRegBlue, regRed: bRegRed,
  title: titles[1], letter: letters[1], legend: false
});
makePanel('panelC', {
  left: 715, right: 1001, xMax: 30, yMax: 30, xTicks: xTicksBC, yTicks: yTicksBC,
  uncorr: cUncorr, corr: cCorr, regBlue: cRegBlue, regRed: cRegRed,
  title: titles[2], letter: letters[2], legend: true
});
</script>
</body>
</html>
